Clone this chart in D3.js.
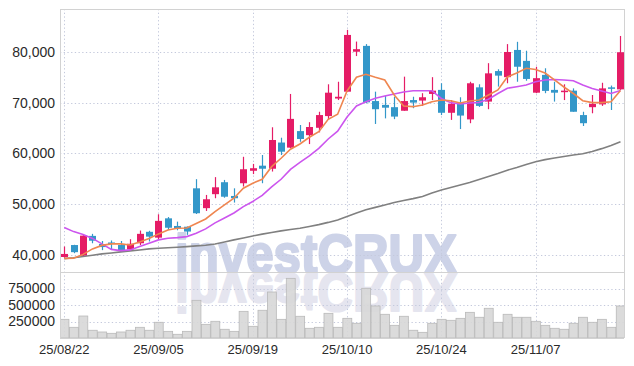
<!DOCTYPE html>
<html><head><meta charset="utf-8">
<script src="https://cdn.jsdelivr.net/npm/d3@7"></script>
<style>html,body{margin:0;padding:0;background:#fff;} svg{display:block;}</style>
</head><body><svg id="c" width="634" height="366"></svg>
<script>
const dates=["25/08/22","25/08/25","25/08/26","25/08/27","25/08/28","25/08/29","25/09/01","25/09/02","25/09/03","25/09/04",
"25/09/05","25/09/08","25/09/09","25/09/10","25/09/11","25/09/12","25/09/15","25/09/16","25/09/17","25/09/18",
"25/09/19","25/09/22","25/09/23","25/09/24","25/09/25","25/09/26","25/09/29","25/09/30","25/10/01","25/10/02",
"25/10/10","25/10/13","25/10/14","25/10/15","25/10/16","25/10/17","25/10/20","25/10/21","25/10/22","25/10/23",
"25/10/24","25/10/27","25/10/28","25/10/29","25/10/30","25/10/31","25/11/03","25/11/04","25/11/05","25/11/06",
"25/11/07","25/11/10","25/11/11","25/11/12","25/11/13","25/11/14","25/11/17","25/11/18","25/11/19","25/11/20"];
const open=[39650,42000,39900,43800,42200,42500,42000,41150,42350,44600,
43450,47250,45750,45600,53150,49250,52000,54350,51650,54150,
56600,57600,57000,62150,61150,64400,63600,65050,67350,70800,
72150,80000,81150,70300,69550,69100,68400,70500,70400,71700,
72500,68000,69850,66700,73000,70200,76200,75000,80350,78200,
71950,75450,72500,72050,72350,67550,69100,69650,73000,72600];
const high=[41700,42050,43950,44200,42800,42900,42800,43150,44850,44800,
48050,47500,46600,45650,54950,51850,55350,54800,53150,59350,
57950,59700,65150,63100,71700,65600,66150,68200,73600,74100,
84300,82000,81500,72150,71300,71150,75100,71150,71850,75000,
73800,70500,71050,74100,73600,77750,76550,81500,81950,80200,
77050,76750,74100,73600,72800,68200,71500,73900,73350,83100];
const low=[39500,40400,39700,42350,41000,41200,40700,40900,42000,42700,
43000,44950,44900,44000,48100,48700,51200,51300,50350,53500,
55950,54150,56450,59700,61050,62300,61850,64150,66700,70500,
72100,79150,69850,65800,66900,66750,68400,68900,69350,70500,
67550,66600,64800,65950,69150,68700,73150,73800,74100,74300,
71850,71850,70200,70500,68200,65400,67900,69350,68550,72500];
const close=[40250,40600,43850,42850,41600,42250,41000,42250,44200,43650,
46750,45400,45300,44650,48250,51000,53350,51500,51200,56900,
57100,57000,62650,60350,66800,62850,65200,67550,71950,71150,
83300,80500,70050,68700,69000,67250,70300,70000,71050,72350,
68000,69750,67450,73800,69350,75750,75300,79950,77050,74650,
74800,72300,71950,72350,68200,65950,69750,72800,72750,79900];
const volume=[283000,162000,333000,117000,91000,71000,91000,117000,162000,117000,
238000,101000,56000,101000,571000,207000,253000,132000,101000,404000,
177000,420000,697000,283000,904000,329000,147000,162000,374000,162000,
298000,223000,753000,485000,359000,192000,329000,117000,86000,223000,
283000,268000,298000,389000,314000,450000,238000,359000,314000,314000,
253000,192000,147000,132000,223000,314000,238000,283000,162000,485000];
const ma5=[39370,39410,40160,41240,41930,42220,42220,42020,42610,43300,
44190,44970,45300,45360,46250,47130,48570,49880,51200,53170,
54150,54930,57410,59060,60830,61870,63190,64290,66720,67710,
72290,74980,75570,74980,74450,71500,69340,69200,69530,70180,
70520,70380,69930,70320,70520,71500,72480,75040,75820,76750,
76510,75820,74450,73070,71790,70380,69990,69990,70180,72380];
const ma20=[45460,44640,44090,43300,42220,41140,40900,41040,41690,42360,
43010,43340,43460,43660,44320,45170,46350,47330,48310,49550,
50570,51750,53420,54930,56860,58240,59510,60990,62850,64370,
67180,69340,70180,70850,71300,71700,72090,72340,72340,72340,
70810,69990,69730,69930,70030,70650,71790,72820,73130,73460,
74110,74450,74550,74450,74310,73460,72780,72290,71790,72380];
const ma60=[39330,39510,39760,40000,40260,40450,40650,40850,41040,41240,
41380,41470,41570,41690,41830,41970,42220,42610,43010,43400,
43790,44150,44480,44780,45070,45310,45660,46010,46450,46940,
47620,48310,48940,49400,49880,50380,50770,51120,51550,52240,
52830,53320,53810,54310,54900,55480,56070,56720,57250,57840,
58390,58790,59120,59410,59710,59960,60400,60950,61580,62320];
const priceTicks=[40000,50000,60000,70000,80000];
const volumeTicks=[250000,500000,750000];
const xTickLabels=["25/08/22","25/09/05","25/09/19","25/10/10","25/10/24","25/11/07"];

const L=60,R=624,T=9,MID=272,B=338;
const svg=d3.select("#c");
const x=d3.scaleBand().domain(dates).range([59.5,625.2]);
const cx=d=>x(d)+x.bandwidth()/2;
const y=d3.scaleLinear().domain([36700,88400]).range([MID,T]);
const yv=d3.scaleLinear().domain([0,1000000]).range([B,MID]);
const FONT="'Liberation Sans Narrow','Arial Narrow','Liberation Sans',Arial,sans-serif";
const gridColor="#c4c9dc";

const defs=svg.append("defs");
defs.append("clipPath").attr("id","clipMain").append("rect").attr("x",L).attr("y",T).attr("width",R-L).attr("height",MID-T);
defs.append("clipPath").attr("id","clipVol").append("rect").attr("x",L).attr("y",MID).attr("width",R-L).attr("height",B-MID);

// watermark: one text, shown twice (upright and mirrored reflection)
const wmBase=272.5;
defs.append("text").attr("id","wm")
  .attr("x",175).attr("y",0).attr("textLength",282).attr("lengthAdjust","spacingAndGlyphs")
  .style("font-family","'Liberation Sans',Arial,sans-serif").style("font-weight","bold").style("font-size","55px")
  .attr("stroke-width",2.2).attr("stroke-linejoin","round").text("investCRUX");
svg.append("g").attr("clip-path","url(#clipMain)").append("use").attr("href","#wm")
  .attr("transform",`translate(0,${wmBase})`).attr("fill","#cdd3e8").attr("stroke","#cdd3e8");
svg.append("g").attr("clip-path","url(#clipVol)").append("use").attr("href","#wm")
  .attr("transform",`translate(0,${wmBase}) scale(1,-1)`).attr("fill","#e5e5ef").attr("stroke","#e5e5ef");

// gridlines
const grid=svg.append("g").attr("stroke",gridColor).attr("stroke-width",1).attr("stroke-dasharray","1.3,2.4");
grid.selectAll(".hg").data(priceTicks).join("line").attr("x1",L).attr("x2",R)
  .attr("y1",d=>Math.round(y(d))+0.5).attr("y2",d=>Math.round(y(d))+0.5);
grid.selectAll(".vg").data(volumeTicks).join("line").attr("class","vg").attr("x1",L).attr("x2",R)
  .attr("y1",d=>Math.round(yv(d))+0.5).attr("y2",d=>Math.round(yv(d))+0.5);
grid.selectAll(".xg").data(xTickLabels).join("line").attr("class","xg")
  .attr("x1",d=>Math.round(cx(d))+0.5).attr("x2",d=>Math.round(cx(d))+0.5).attr("y1",T).attr("y2",B);

// volume bars
svg.append("g").attr("clip-path","url(#clipVol)").selectAll("rect").data(dates).join("rect")
  .attr("x",d=>x(d)+0.5).attr("width",x.bandwidth()-0.5)
  .attr("y",(d,i)=>yv(volume[i])).attr("height",(d,i)=>B-yv(volume[i]))
  .attr("fill","#d7d7d7").attr("fill-opacity",0.9).attr("stroke","#b9b9b9").attr("stroke-width",0.8);

// candles
const up="#e51c66", down="#3397c9";
const cg=svg.append("g").attr("clip-path","url(#clipMain)");
const bw=7;
dates.forEach((d,i)=>{
  const col=close[i]>=open[i]?up:down;
  const xc=Math.round(cx(d));
  cg.append("line").attr("x1",xc+0.5).attr("x2",xc+0.5).attr("y1",y(high[i])).attr("y2",y(low[i]))
    .attr("stroke",col).attr("stroke-width",1.2);
  const top=y(Math.max(open[i],close[i])), bot=y(Math.min(open[i],close[i]));
  cg.append("rect").attr("x",xc+0.5-bw/2).attr("width",bw).attr("y",top).attr("height",Math.max(1.5,bot-top)).attr("fill",col);
});

// moving averages
const line=arr=>d3.line().x((d,i)=>cx(d)).y((d,i)=>y(arr[i]))(dates);
cg.append("path").attr("d",line(ma60)).attr("fill","none").attr("stroke","#808080").attr("stroke-width",1.6);
cg.append("path").attr("d",line(ma20)).attr("fill","none").attr("stroke","#cc55ee").attr("stroke-width",1.6);
cg.append("path").attr("d",line(ma5)).attr("fill","none").attr("stroke","#ef8650").attr("stroke-width",1.6);

// frame
const fr=svg.append("g").attr("stroke","#d2d2d2").attr("stroke-width",1).attr("fill","none");
fr.append("line").attr("x1",L+0.5).attr("x2",L+0.5).attr("y1",T).attr("y2",B);
fr.append("line").attr("x1",R+0.5).attr("x2",R+0.5).attr("y1",T).attr("y2",B);
fr.append("line").attr("x1",L).attr("x2",R).attr("y1",T+0.5).attr("y2",T+0.5);
fr.append("line").attr("x1",L).attr("x2",R).attr("y1",MID+0.5).attr("y2",MID+0.5);
fr.append("line").attr("x1",L).attr("x2",R).attr("y1",B+0.5).attr("y2",B+0.5);

// axes
const yAxis=d3.axisLeft(y).tickValues(priceTicks).tickSize(0).tickPadding(0).tickFormat(d3.format(","));
const ya=svg.append("g").attr("transform",`translate(${L-5},0)`).call(yAxis);
const yvAxis=d3.axisLeft(yv).tickValues(volumeTicks).tickSize(0).tickPadding(0).tickFormat(d3.format("d"));
const yva=svg.append("g").attr("transform",`translate(${L-5},0)`).call(yvAxis);
const xAxis=d3.axisBottom(x).tickValues(xTickLabels).tickSize(0).tickPadding(0);
const xa=svg.append("g").attr("transform",`translate(0,${B+5})`).call(xAxis);
[ya,yva,xa].forEach(g=>{g.select(".domain").remove();
  g.selectAll("text").style("font-family",FONT).style("font-size","14px").attr("fill","#2a2a2a");});
xa.selectAll("text").style("font-family","'Liberation Sans',Arial,sans-serif").style("font-size","13px").attr("dy","0.85em");
</script></body></html>
